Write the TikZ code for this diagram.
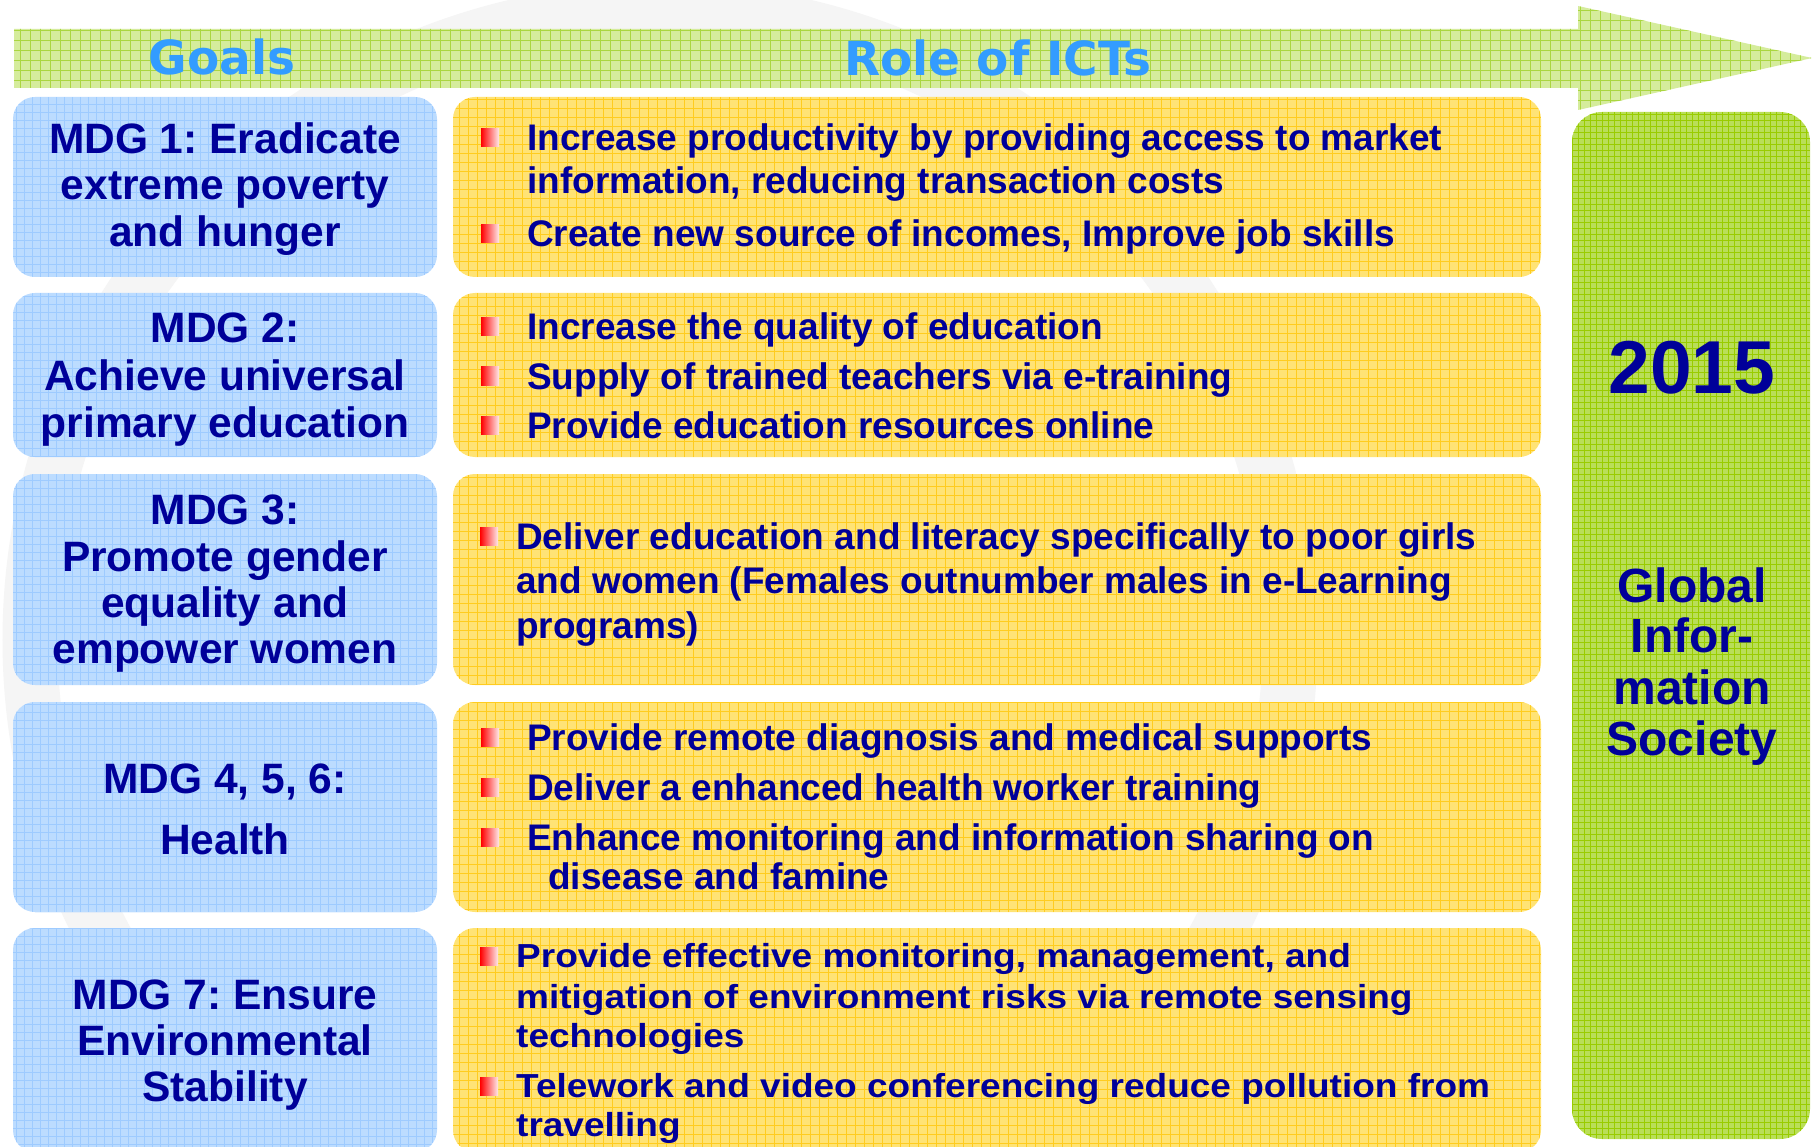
\documentclass[tikz,border=0pt]{standalone}
\usepackage{fontspec}
\setmainfont{Liberation Sans}
\newfontfamily\headfont{DejaVu Sans}
\frenchspacing

\definecolor{navytxt}{HTML}{000099}
\definecolor{headblue}{HTML}{339CFF}
\definecolor{bluefill}{HTML}{BCDCFF}
\definecolor{bluegrid}{HTML}{9ECBFF}
\definecolor{yelfill}{HTML}{FFE375}
\definecolor{yelgrid}{HTML}{FFCC1F}
\definecolor{grnfill}{HTML}{B9DE58}
\definecolor{grngrid}{HTML}{99CC00}
\definecolor{arrfill}{HTML}{D5EC9C}
\definecolor{arrgrid}{HTML}{AAD640}
\definecolor{bulred}{HTML}{FF0000}

\newcommand\rbul[2]{\shade[left color=bulred,right color=bulred!8] (#1,#2) rectangle ++(18,18);}

\tikzset{
  gridfill/.style n args={3}{path picture={
      \draw[#1, line width=#2, step=#3]
        (path picture bounding box.south west) grid (path picture bounding box.north east);}},
  goalbox/.style={fill=bluefill, rounded corners=22pt, gridfill={bluegrid}{0.9pt}{8pt}},
  rolebox/.style={fill=yelfill, rounded corners=22pt, gridfill={yelgrid}{0.9pt}{9pt}},
  endbox/.style={fill=grnfill, rounded corners=30pt, gridfill={grngrid}{0.9pt}{6pt}},
  arrowband/.style={fill=arrfill, gridfill={arrgrid}{0.8pt}{10pt}},
  goaltxt/.style={anchor=base, inner sep=0pt, text=navytxt,
    font=\fontsize{42.5}{47}\selectfont\bfseries},
  roletxt/.style={anchor=base west, inner sep=0pt, text=navytxt,
    font=\fontsize{37}{44}\selectfont\bfseries},
  headtxt/.style={anchor=base, inner sep=0pt, text=headblue,
    font=\headfont\fontsize{47}{50}\selectfont\bfseries},
  yeartxt/.style={anchor=base, inner sep=0pt, text=navytxt,
    font=\fontsize{75}{80}\selectfont\bfseries},
  socitxt/.style={anchor=base, inner sep=0pt, text=navytxt,
    font=\fontsize{48}{52}\selectfont\bfseries},
}

\newcommand\squish[1]{\scalebox{1}[0.9]{#1}}

\begin{document}
\begin{tikzpicture}[x=1pt, y=-1pt]
\useasboundingbox (0,0) rectangle (1812,1147);
\clip (0,0) rectangle (1812,1147);
\fill[white] (0,0) rectangle (1812,1147);

% faint background emblem
\draw[black!4, line width=55pt] (660,640) circle [radius=630pt];

% timeline arrow across the top
\fill[arrowband] (14,29) -- (1578,29) -- (1578,6) -- (1812,58) -- (1578,110)
  -- (1578,88) -- (14,88) -- cycle;
\node[headtxt] (hgoals) at (222,75) {Goals};
\node[headtxt] (hroles) at (998,76) {Role of ICTs};

% goal column
\path[goalbox] (13,97)  rectangle (437,277);
\path[goalbox] (13,293) rectangle (437,457);
\path[goalbox] (13,474) rectangle (437,685);
\path[goalbox] (13,702) rectangle (437,912);
\path[goalbox] (13,928) rectangle (437,1152);

% ICT role column
\path[rolebox] (453,97)  rectangle (1541,277);
\path[rolebox] (453,293) rectangle (1541,457);
\path[rolebox] (453,474) rectangle (1541,685);
\path[rolebox] (453,702) rectangle (1541,912);
\path[rolebox] (453,928) rectangle (1541,1152);

% target column
\path[endbox] (1572,112) rectangle (1810,1139);

% goals
\node[goaltxt] (g1a) at (225,154) {MDG 1: Eradicate};
\node[goaltxt] (g1b) at (225,200) {extreme poverty};
\node[goaltxt] (g1c) at (225,247) {and hunger};

\node[goaltxt] (g2a) at (225,343) {MDG 2:};
\node[goaltxt] (g2b) at (225,390) {Achieve universal};
\node[goaltxt] (g2c) at (225,437) {primary education};

\node[goaltxt] (g3a) at (225,524) {MDG 3:};
\node[goaltxt] (g3b) at (225,571) {Promote gender};
\node[goaltxt] (g3c) at (225,617) {equality and};
\node[goaltxt] (g3d) at (225,663) {empower women};

\node[goaltxt] (g4a) at (225,793) {MDG 4, 5, 6:};
\node[goaltxt] (g4b) at (225,854) {Health};

\node[goaltxt] (g5a) at (225,1009) {MDG 7: Ensure};
\node[goaltxt] (g5b) at (225,1055) {Environmental};
\node[goaltxt] (g5c) at (225,1101) {Stability};

% roles of ICTs
\rbul{481}{129}
\node[roletxt] (r1a) at (527,151) {Increase productivity by providing access to market};
\node[roletxt] (r1b) at (527,194) {information, reducing transaction costs};
\rbul{481}{225}
\node[roletxt] (r1c) at (527,247) {Create new source of incomes, Improve job skills};

\rbul{481}{318}
\node[roletxt] (r2a) at (527,340) {Increase the quality of education};
\rbul{481}{367}
\node[roletxt] (r2b) at (527,389) {Supply of trained teachers via e-training};
\rbul{481}{416}
\node[roletxt] (r2c) at (527,438) {Provide education resources online};

\rbul{480}{527}
\node[roletxt] (r3a) at (516,549) {Deliver education and literacy specifically to poor girls};
\node[roletxt] (r3b) at (516,593) {and women (Females outnumber males in e-Learning};
\node[roletxt] (r3c) at (516,638) {programs)};

\rbul{481}{728}
\node[roletxt] (r4a) at (527,750) {Provide remote diagnosis and medical supports};
\rbul{481}{778}
\node[roletxt] (r4b) at (527,800) {Deliver a enhanced health worker training};
\rbul{481}{828}
\node[roletxt] (r4c) at (527,850) {Enhance monitoring and information sharing on};
\node[roletxt] (r4d) at (548,889) {disease and famine};

\rbul{480}{947}
\node[roletxt] (r5a) at (516,967) {\squish{Provide effective monitoring, management, and}};
\node[roletxt] (r5b) at (516,1008) {\squish{mitigation of environment risks via remote sensing}};
\node[roletxt] (r5c) at (516,1047) {\squish{technologies}};
\rbul{480}{1077}
\node[roletxt] (r5d) at (516,1097) {\squish{Telework and video conferencing reduce pollution from}};
\node[roletxt] (r5e) at (516,1136) {\squish{travelling}};

% target
\node[yeartxt] (year) at (1692,393) {2015};
\node[socitxt] (s1) at (1692,602) {Global};
\node[socitxt] (s2) at (1692,652) {Infor-};
\node[socitxt] (s3) at (1692,704) {mation};
\node[socitxt] (s4) at (1692,755) {Society};
\end{tikzpicture}
\end{document}
